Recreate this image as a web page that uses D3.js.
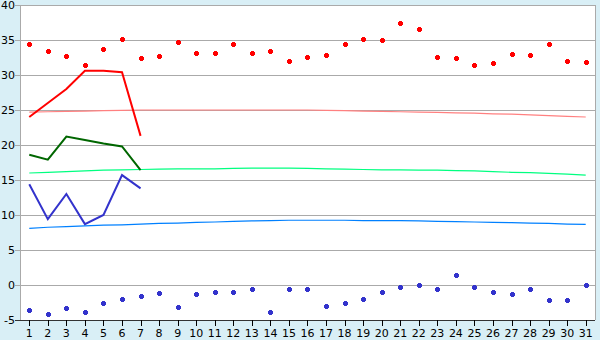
<!DOCTYPE html>
<html>
<head>
<meta charset="utf-8">
<script src="https://cdn.jsdelivr.net/npm/d3@7"></script>
<style>
  body { margin: 0; background: #d9eff6; }
  svg { display: block; }
  text { font-family: "DejaVu Sans", Verdana, sans-serif; font-size: 11px; fill: #000; }
</style>
</head>
<body>
<div id="chart"></div>
<script>
const days = d3.range(1, 32);
const yTicks = [-5, 0, 5, 10, 15, 20, 25, 30, 35, 40];

// record highs / lows per day
const recordMax = [34.4, 33.4, 32.7, 31.4, 33.7, 35.2, 32.4, 32.7, 34.7, 33.2,
  33.2, 34.4, 33.2, 33.4, 32.0, 32.5, 32.8, 34.4, 35.1, 35.0,
  37.4, 36.5, 32.5, 32.4, 31.4, 31.7, 33.0, 32.8, 34.4, 32.0, 31.8];
const recordMin = [-3.6, -4.2, -3.3, -3.8, -2.5, -2.0, -1.6, -1.2, -3.2, -1.3,
  -1.0, -1.0, -0.6, -3.8, -0.6, -0.6, -3.0, -2.6, -2.0, -1.0,
  -0.3, 0.0, -0.6, 1.4, -0.3, -1.0, -1.3, -0.6, -2.2, -2.2, 0.0];

// normals
const normalMax = [24.7, 24.75, 24.8, 24.85, 24.9, 24.95, 25.0, 25.0, 25.0, 25.0,
  25.0, 25.0, 25.0, 25.0, 25.0, 25.0, 24.95, 24.9, 24.85, 24.8,
  24.75, 24.7, 24.65, 24.6, 24.55, 24.45, 24.4, 24.3, 24.2, 24.1, 24.0];
const normalMean = [16.0, 16.1, 16.2, 16.3, 16.4, 16.45, 16.5, 16.55, 16.6, 16.6,
  16.6, 16.65, 16.7, 16.7, 16.7, 16.65, 16.6, 16.55, 16.5, 16.45,
  16.45, 16.4, 16.4, 16.35, 16.3, 16.2, 16.1, 16.05, 15.95, 15.85, 15.7];
const normalMin = [8.1, 8.25, 8.35, 8.45, 8.55, 8.6, 8.7, 8.8, 8.85, 8.95,
  9.0, 9.1, 9.15, 9.2, 9.25, 9.25, 9.25, 9.25, 9.2, 9.2,
  9.2, 9.15, 9.1, 9.05, 9.0, 8.95, 8.9, 8.85, 8.8, 8.7, 8.65];

// current month (days 1-7)
const curMax = [24.0, 26.0, 28.0, 30.6, 30.6, 30.4, 21.3];
const curMean = [18.6, 17.9, 21.2, 20.7, 20.2, 19.8, 16.4];
const curMin = [14.4, 9.4, 13.0, 8.7, 10.0, 15.7, 13.8];

const width = 600, height = 340;
const mLeft = 20, mRight = 595, mTop = 5, mBottom = 320;

const svg = d3.select("#chart").append("svg")
  .attr("width", width)
  .attr("height", height);

svg.append("rect").attr("width", width).attr("height", height).attr("fill", "#d9eff6");

const x = d3.scaleBand().domain(days).range([mLeft, mRight]);
const y = d3.scaleLinear().domain([-5, 40]).range([mBottom, mTop]);
const cx = d => x(d) + x.bandwidth() / 2;

svg.append("rect")
  .attr("x", mLeft).attr("y", mTop)
  .attr("width", mRight - mLeft).attr("height", mBottom - mTop)
  .attr("fill", "#fff");

// gridlines
svg.append("g")
  .selectAll("line")
  .data(yTicks)
  .enter().append("line")
  .attr("x1", mLeft - 5).attr("x2", mRight)
  .attr("y1", d => Math.round(y(d)) + 0.5)
  .attr("y2", d => Math.round(y(d)) + 0.5)
  .style("stroke", "#aaaaaa")
  .style("shape-rendering", "crispEdges");

// borders
svg.append("line")
  .attr("x1", mLeft + 0.5).attr("x2", mLeft + 0.5).attr("y1", mTop).attr("y2", mBottom)
  .style("stroke", "#aaaaaa").style("shape-rendering", "crispEdges");
svg.append("line")
  .attr("x1", mRight + 0.5).attr("x2", mRight + 0.5).attr("y1", mTop).attr("y2", mBottom)
  .style("stroke", "#aaaaaa").style("shape-rendering", "crispEdges");
svg.append("line")
  .attr("x1", mLeft - 5).attr("x2", mRight).attr("y1", mBottom + 0.5).attr("y2", mBottom + 0.5)
  .style("stroke", "#333").style("shape-rendering", "crispEdges");

// y labels
svg.append("g")
  .selectAll("text")
  .data(yTicks)
  .enter().append("text")
  .attr("x", 15)
  .attr("y", d => y(d) + 4)
  .attr("text-anchor", "end")
  .text(d => d);

// x ticks and labels
const xt = svg.append("g").selectAll("g").data(days).enter().append("g");
xt.append("line")
  .attr("x1", d => Math.round(cx(d)) + 0.5).attr("x2", d => Math.round(cx(d)) + 0.5)
  .attr("y1", mBottom).attr("y2", mBottom + 6)
  .style("stroke", "#000").style("shape-rendering", "crispEdges");
xt.append("text")
  .attr("x", d => cx(d))
  .attr("y", 337)
  .attr("text-anchor", "middle")
  .text(d => d);

// normal lines
const dayLine = d3.line().x((d, i) => cx(days[i])).y(d => y(d));
[[normalMax, "#ff8080"], [normalMean, "#00ff80"], [normalMin, "#0080ff"]].forEach(([data, c]) => {
  svg.append("path")
    .attr("d", dayLine(data))
    .attr("fill", "none")
    .style("stroke", c)
    .style("stroke-width", 1.2);
});

// current month lines
[[curMax, "#ff0000"], [curMean, "#006600"], [curMin, "#3333cc"]].forEach(([data, c]) => {
  svg.append("path")
    .attr("d", dayLine(data))
    .attr("fill", "none")
    .style("stroke", c)
    .style("stroke-width", 2);
});

// record markers
const marker = "M-1.5,-2.5h3v1h1v3h-1v1h-3v-1h-1v-3h1z";
[[recordMax, "#ff0000"], [recordMin, "#3333cc"]].forEach(([data, c]) => {
  svg.append("g")
    .selectAll("path")
    .data(data)
    .enter().append("path")
    .attr("d", marker)
    .attr("transform", (d, i) => `translate(${Math.round(cx(days[i])) + 0.5},${Math.round(y(d)) + 0.5})`)
    .attr("fill", c)
    .style("shape-rendering", "crispEdges");
});
</script>
</body>
</html>
